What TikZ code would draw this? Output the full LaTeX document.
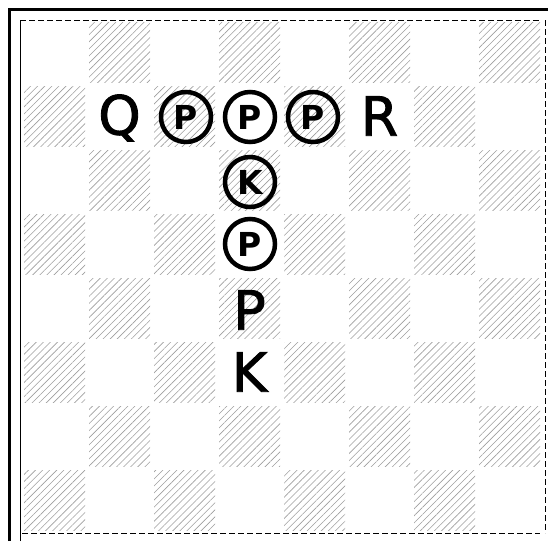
\documentclass[tikz,border=0pt]{standalone}
\usepackage{fontspec}
\setmainfont{DejaVu Sans}
\newfontfamily\piecefont{DejaVu Sans}[FakeBold=1.6]
\usetikzlibrary{patterns.meta}
\tikzset{
  darksq/.style={pattern={Lines[angle=45,distance=5pt,line width=0.6pt]},pattern color=black!38},
  bigpiece/.style={font=\piecefont\fontsize{54}{54}\selectfont, inner sep=0pt},
  ringpiece/.style={circle, draw=black, line width=4.5pt, minimum size=50pt, inner sep=0pt,
                    font=\bfseries\fontsize{33}{33}\selectfont},
  thickframe/.style={line width=3pt},
  thinframe/.style={line width=0.9pt},
  brokenframe/.style={line width=1pt, dash pattern=on 6pt off 3pt}
}
\begin{document}
\begin{tikzpicture}[x=1pt,y=-1pt]
\useasboundingbox (0,0) rectangle (548,541);
% squares
\foreach \i in {0,...,7}{
  \foreach \j in {0,...,7}{
    \pgfmathtruncatemacro{\sqparity}{mod(\i+\j,2)}
    \ifnum\sqparity=1
      \fill[darksq] ({22+65*\i+2},{20+64*\j+2}) rectangle ({22+65*(\i+1)-2},{20+64*(\j+1)-2});
    \fi
  }
}
% frames
\draw[thickframe] (9,541) -- (9,9) -- (548,9);
\draw[thinframe] (20,541) -- (20,20);
\draw[brokenframe] (20,20) -- (540,20);
\draw[brokenframe] (545,20) -- (545,533);
\draw[brokenframe] (22,533) -- (540,533);
% pieces
\node[bigpiece] (q) at (119.5,118) {Q};
\node[ringpiece] (p1) at (186,117) {P};
\node[ringpiece] (p2) at (250,117) {P};
\node[ringpiece] (p3) at (313,117) {P};
\node[bigpiece] (r) at (379.5,116) {R};
\node[ringpiece] (k1) at (250,182) {K};
\node[ringpiece] (p4) at (250,244) {P};
\node[bigpiece] (p5) at (249.5,310) {P};
\node[bigpiece] (k2) at (249.5,372) {K};
\end{tikzpicture}
\end{document}
